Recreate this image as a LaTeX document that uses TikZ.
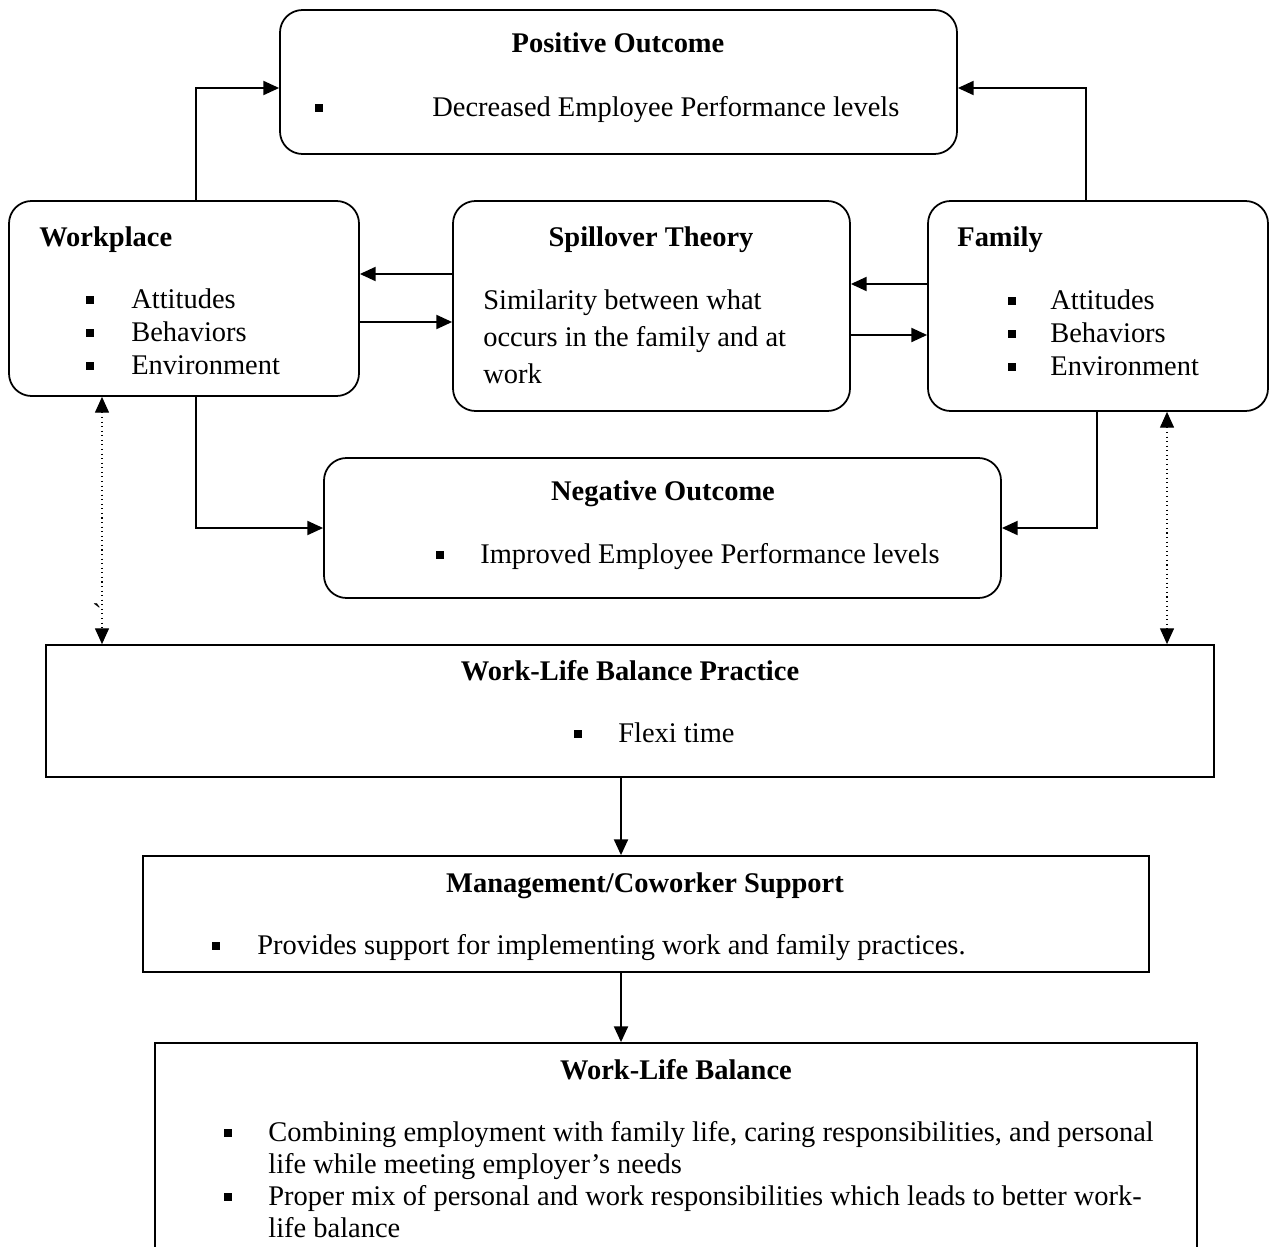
\documentclass[tikz,border=0pt]{standalone}
\usepackage{fontspec}
\setmainfont{Liberation Serif}
\usetikzlibrary{arrows.meta,positioning,fit}

\newcommand{\sqbul}[1]{\fill #1 +(-4,-4) rectangle +(4,4);}

\begin{document}
\begin{tikzpicture}[
    x=0.02cm, y=-0.02cm,
    rbox/.style={draw=black, line width=1pt, rounded corners=0.45cm, inner sep=0pt},
    sbox/.style={draw=black, line width=1pt, inner sep=0pt},
    head/.style={font=\fontsize{16.2}{19}\selectfont\bfseries, inner sep=0pt, text height=0.92em, text depth=0em},
    txt/.style={font=\fontsize{16.2}{19}\selectfont, inner sep=0pt, anchor=west, text height=0.92em, text depth=0em},
    connector/.style={-{Triangle[length=9pt,width=8pt]}, line width=1.1pt},
    dotconn/.style={{Triangle[length=9pt,width=8pt]}-{Triangle[length=9pt,width=8pt]}, line width=0.6pt, dotted}
  ]
    \clip (0,0) rectangle (1271,1247);

    % Positive Outcome
    \node[rbox, fit={(280,10) (957,154)}] (pos) {};
    \node[head] (posT) at (618,44) {Positive Outcome};
    \sqbul{(319,108)}
    \node[txt] (posL) at (432,108) {Decreased Employee Performance levels};

    % Workplace
    \node[rbox, fit={(9,201) (359,396)}] (work) {};
    \node[head, anchor=west] (workT) at (39,238) {Workplace};
    \sqbul{(90,300)} \node[txt] (workA) at (131,300) {Attitudes};
    \sqbul{(90,333)} \node[txt] (workB) at (131,333) {Behaviors};
    \sqbul{(90,366)} \node[txt] (workC) at (131,366) {Environment};

    % Spillover Theory
    \node[rbox, fit={(453,201) (850,411)}] (spill) {};
    \node[head] (spillT) at (651,238) {Spillover Theory};
    \node[txt] (spillA) at (483,301) {Similarity between what};
    \node[txt] (spillB) at (483,338) {occurs in the family and at};
    \node[txt] (spillC) at (483,375) {work};

    % Family
    \node[rbox, fit={(928,201) (1268,411)}] (fam) {};
    \node[head, anchor=west] (famT) at (957,238) {Family};
    \sqbul{(1012,301)} \node[txt] (famA) at (1050,301) {Attitudes};
    \sqbul{(1012,334)} \node[txt] (famB) at (1050,334) {Behaviors};
    \sqbul{(1012,367)} \node[txt] (famC) at (1050,367) {Environment};

    % Negative Outcome
    \node[rbox, fit={(324,458) (1001,598)}] (neg) {};
    \node[head] (negT) at (663,492) {Negative Outcome};
    \sqbul{(440,555)}
    \node[txt] (negL) at (480,555) {Improved Employee Performance levels};

    \node[inner sep=0pt, font=\fontsize{16.2}{19}\selectfont] (tick) at (97,614) {\textasciigrave};

    % Work-Life Balance Practice
    \node[sbox, fit={(46,645) (1214,777)}] (wlbp) {};
    \node[head] (wlbpT) at (630,672) {Work-Life Balance Practice};
    \sqbul{(578,734)}
    \node[txt] (wlbpL) at (618,734) {Flexi time};

    % Management/Coworker Support
    \node[sbox, fit={(143,856) (1149,972)}] (mcs) {};
    \node[head] (mcsT) at (645,884) {Management/Coworker Support};
    \sqbul{(216,946)}
    \node[txt] (mcsL) at (257,946) {Provides support for implementing work and family practices.};

    % Work-Life Balance
    \node[sbox, fit={(155,1043) (1197,1290)}] (wlb) {};
    \node[head] (wlbT) at (676,1071) {Work-Life Balance};
    \sqbul{(228,1133)}
    \node[txt] (wlbA) at (268,1133) {Combining employment with family life, caring responsibilities, and personal};
    \node[txt] (wlbB) at (268,1165) {life while meeting employer’s needs};
    \sqbul{(228,1197)}
    \node[txt] (wlbC) at (268,1197) {Proper mix of personal and work responsibilities which leads to better work-};
    \node[txt] (wlbD) at (268,1229) {life balance};

    % helper rows and columns
    \coordinate (up) at (0,88);
    \coordinate (dn) at (528,528);
    \coordinate (r1) at (0,274);
    \coordinate (r2) at (0,322);
    \coordinate (r3) at (0,284);
    \coordinate (r4) at (0,335);
    \coordinate (wx) at (196,0);
    \coordinate (fx) at (1086,0);
    \coordinate (fbx) at (1097,0);
    \coordinate (dl) at (102,0);
    \coordinate (dr) at (1167,0);
    \coordinate (cx) at (621,0);

    % Conectores
    \draw[connector] (work.north -| wx) |- (pos.west |- up);
    \draw[connector] (fam.north -| fx) |- (pos.east |- up);
    \draw[connector] (spill.west |- r1) -- (work.east |- r1);
    \draw[connector] (work.east |- r2) -- (spill.west |- r2);
    \draw[connector] (fam.west |- r3) -- (spill.east |- r3);
    \draw[connector] (spill.east |- r4) -- (fam.west |- r4);
    \draw[connector] (work.south -| wx) |- (neg.west |- dn);
    \draw[connector] (fam.south -| fbx) |- (neg.east |- dn);
    \draw[dotconn] (work.south -| dl) -- (wlbp.north -| dl);
    \draw[dotconn] (fam.south -| dr) -- (wlbp.north -| dr);
    \draw[connector] (wlbp.south -| cx) -- (mcs.north -| cx);
    \draw[connector] (mcs.south -| cx) -- (wlb.north -| cx);
\end{tikzpicture}
\end{document}
